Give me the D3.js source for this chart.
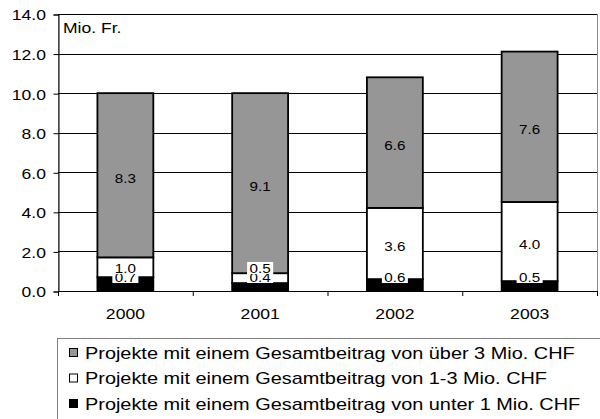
<!DOCTYPE html>
<html>
<head>
<meta charset="utf-8">
<script src="https://cdn.jsdelivr.net/npm/d3@7"></script>
<style>
  body { margin: 0; background: #fff; }
  text { font-family: "Liberation Sans", Arial, sans-serif; fill: #000; }
</style>
</head>
<body>
<svg id="chart" width="600" height="419"></svg>
<script>
// values in Mio. Fr.
const years = ["2000", "2001", "2002", "2003"];
const under1 = [0.7, 0.4, 0.6, 0.5];
const from1to3 = [1.0, 0.5, 3.6, 4.0];
const over3 = [8.3, 9.1, 6.6, 7.6];
const yTicks = [0, 2, 4, 6, 8, 10, 12, 14];
const legendLabels = [
    "Projekte mit einem Gesamtbeitrag von über 3 Mio. CHF",
    "Projekte mit einem Gesamtbeitrag von 1-3 Mio. CHF",
    "Projekte mit einem Gesamtbeitrag von unter 1 Mio. CHF"
];

const svg = d3.select('#chart');
const plotLeft = 58, plotRight = 597, plotTop = 14, plotBottom = 291;
// the original text is a bit wider than Arial, stretch horizontally
const stretch = 1.17;

function place(sel, fx, fy) {
    return sel.attr('transform', (d, i) => 'translate(' + fx(d, i) + ',' + fy(d, i) + ') scale(' + stretch + ',1)');
}

const x = d3.scaleBand().domain(years).range([plotLeft, plotRight]).paddingInner(0.585).paddingOuter(0.2925);
const y = d3.scaleLinear().domain([0, 14]).range([plotBottom, plotTop]);

// stack bottom -> top
const rows = years.map(function (yr, i) {
    return {year: yr, under1: under1[i], from1to3: from1to3[i], over3: over3[i]};
});
const keys = ['under1', 'from1to3', 'over3'];
const fills = {under1: '#000000', from1to3: '#ffffff', over3: '#969696'};
const series = d3.stack().keys(keys)(rows);

// plot frame
svg.append('rect')
    .attr('x', plotLeft + 0.5).attr('y', plotTop + 0.5)
    .attr('width', plotRight - plotLeft).attr('height', plotBottom - plotTop)
    .attr('fill', 'none').attr('stroke', '#8c8c8c').attr('stroke-width', 1);

// gridlines
svg.append('g').selectAll('line')
    .data(yTicks.filter(d => d > 0))
    .enter().append('line')
    .attr('x1', plotLeft).attr('x2', plotRight)
    .attr('y1', d => Math.round(y(d)) + 0.5).attr('y2', d => Math.round(y(d)) + 0.5)
    .attr('stroke', '#000').attr('stroke-width', 1);

// y axis
const yAxis = svg.append('g')
    .attr('transform', 'translate(' + (plotLeft + 0.5) + ',0.5)')
    .call(d3.axisLeft(y).tickValues(yTicks).tickFormat('').tickSize(5));
yAxis.select('.domain').attr('stroke', '#000');
place(svg.append('g').selectAll('text')
    .data(yTicks)
    .enter().append('text')
    .attr('text-anchor', 'end')
    .attr('dy', '0.36em')
    .style('font-size', '15px')
    .text(d => d3.format('.1f')(d)), () => 46, d => y(d) + 1);

// x axis (ticks at category boundaries)
svg.append('line')
    .attr('x1', plotLeft).attr('x2', plotRight)
    .attr('y1', plotBottom + 0.5).attr('y2', plotBottom + 0.5)
    .attr('stroke', '#000').attr('stroke-width', 1.2);
svg.append('g').selectAll('line')
    .data(d3.range(years.length + 1))
    .enter().append('line')
    .attr('x1', i => plotLeft + i * x.step() + 0.5).attr('x2', i => plotLeft + i * x.step() + 0.5)
    .attr('y1', plotBottom).attr('y2', plotBottom + 5)
    .attr('stroke', '#000');
place(svg.append('g').selectAll('text')
    .data(years)
    .enter().append('text')
    .attr('text-anchor', 'middle')
    .style('font-size', '15px')
    .text(d => d), d => x(d) + x.bandwidth() / 2, () => 319);

// bars
const layer = svg.append('g').selectAll('g')
    .data(series)
    .enter().append('g')
    .attr('fill', d => fills[d.key]);
layer.selectAll('rect')
    .data(d => d)
    .enter().append('rect')
    .attr('x', d => x(d.data.year))
    .attr('y', d => y(d[1]))
    .attr('width', x.bandwidth())
    .attr('height', d => y(d[0]) - y(d[1]))
    .attr('stroke', '#000')
    .attr('stroke-width', 1.8);

// data labels, pushed up when they would hit the axis or the label below
const labels = [];
years.forEach(function (yr, i) {
    let prev = null;
    series.forEach(function (s) {
        const d = s[i];
        let cy = y((d[0] + d[1]) / 2) + 3;
        if (prev === null) cy = Math.min(cy, plotBottom - 14);
        else cy = Math.min(cy, prev - 9);
        prev = cy;
        labels.push({x: x(yr) + x.bandwidth() / 2, y: cy, v: d[1] - d[0], boxed: s.key !== 'over3'});
    });
});
const lg = svg.append('g').selectAll('g')
    .data(labels)
    .enter().append('g')
    .attr('transform', d => 'translate(' + d.x + ',' + d.y + ')');
lg.filter(d => d.boxed).append('rect')
    .attr('x', -13).attr('y', -6)
    .attr('width', 26).attr('height', 12)
    .attr('fill', '#fff');
lg.append('text')
    .attr('text-anchor', 'middle')
    .attr('dy', '0.36em')
    .attr('transform', 'scale(' + stretch + ',1)')
    .style('font-size', '13px')
    .text(d => d3.format('.1f')(d.v));

// unit label
place(svg.append('text')
    .style('font-size', '15px')
    .text('Mio. Fr.'), () => 63, () => 33);

// legend
svg.append('rect')
    .attr('x', 57.5).attr('y', 338.5)
    .attr('width', 600).attr('height', 100)
    .attr('fill', '#fff').attr('stroke', '#808080');
const leg = svg.append('g').selectAll('g')
    .data(legendLabels)
    .enter().append('g')
    .attr('transform', (d, i) => 'translate(69,' + (352 + i * 25.5) + ')');
leg.append('rect')
    .attr('x', 0.5).attr('y', -3.5)
    .attr('width', 8).attr('height', 8)
    .attr('fill', (d, i) => fills[keys[2 - i]])
    .attr('stroke', '#000').attr('stroke-width', 1);
leg.append('text')
    .attr('dy', '0.4em')
    .attr('transform', 'translate(16,0) scale(' + stretch + ',1)')
    .style('font-size', '17px')
    .text(d => d);
</script>
</body>
</html>
